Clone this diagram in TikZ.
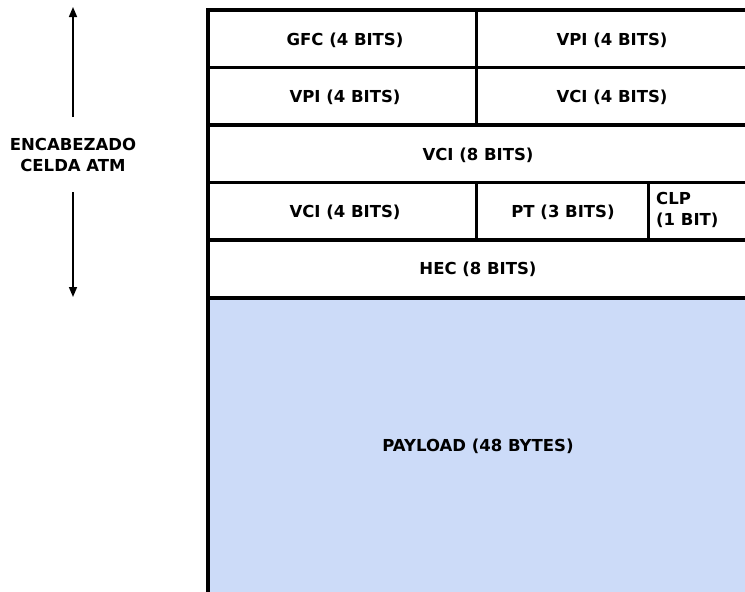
\documentclass[tikz,border=0pt]{standalone}
\usepackage{fontspec}
\setmainfont{DejaVu Sans}
\usetikzlibrary{arrows.meta}
\definecolor{payload}{RGB}{204,219,248}
\begin{document}
\begin{tikzpicture}[x=1pt,y=-1pt,
  grid/.style={line width=3.8pt,black},
  lbl/.style={font=\bfseries\fontsize{16.5}{20.5}\selectfont,inner sep=0pt,align=center},
  arr/.style={line width=1.5pt,-{Triangle[width=8pt,length=10pt]}}]
\useasboundingbox (0,0) rectangle (745,592);
% payload fill
\fill[payload] (208,298) rectangle (745,592);
% grid lines
\draw[grid] (208,592) -- (208,10) -- (745,10);
\draw[grid] (208,67.5) -- (745,67.5);
\draw[grid] (208,125) -- (745,125);
\draw[grid] (208,182.5) -- (745,182.5);
\draw[grid] (208,240) -- (745,240);
\draw[grid] (208,298) -- (745,298);
\draw[grid] (476.5,10) -- (476.5,125);
\draw[grid] (476.5,182.5) -- (476.5,240);
\draw[line width=3.2pt] (648.5,182.5) -- (648.5,240);
% cell texts
\node[lbl] (gfc) at (345,40) {GFC (4 BITS)};
\node[lbl] (vpi1) at (612,40) {VPI (4 BITS)};
\node[lbl] (vpi2) at (345,97) {VPI (4 BITS)};
\node[lbl] (vci1) at (612,97) {VCI (4 BITS)};
\node[lbl] (vci2) at (478,155) {VCI (8 BITS)};
\node[lbl] (vci3) at (345,212) {VCI (4 BITS)};
\node[lbl] (pt) at (563,212) {PT (3 BITS)};
\node[lbl,align=left,anchor=west] (clp) at (656,210) {CLP\\(1 BIT)};
\node[lbl] (hec) at (478,269) {HEC (8 BITS)};
\node[lbl] (pay) at (478,446) {PAYLOAD (48 BYTES)};
% side label and arrows
\node[lbl] (enc) at (73,155) {ENCABEZADO\\CELDA ATM};
\coordinate (top) at (73,7);
\coordinate (bot) at (73,297);
\draw[arr] (enc.north |- 0,117) -- (top);
\draw[arr] (enc.south |- 0,192) -- (bot);
\end{tikzpicture}
\end{document}
